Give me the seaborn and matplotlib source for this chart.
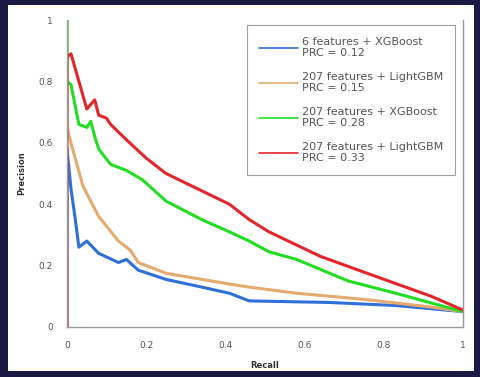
import matplotlib
matplotlib.use("Agg")
import matplotlib.pyplot as plt
import seaborn as sns
import pandas as pd
from matplotlib.patches import Rectangle

# ---- data ----
labels = ["6 features + XGBoost\nPRC = 0.12",
          "207 features + LightGBM\nPRC = 0.15",
          "207 features + XGBoost\nPRC = 0.28",
          "207 features + LightGBM\nPRC = 0.33"]
colors = ["#2f6fd8", "#e4aa6e", "#22dd22", "#e4262c"]

blue_recall = [0.0, 0.0, 0.01, 0.02, 0.03, 0.05, 0.08, 0.13, 0.15, 0.18, 0.25, 0.34, 0.41, 0.46, 0.66, 0.83, 1.0]
blue_prec = [0.0, 0.58, 0.45, 0.36, 0.26, 0.28, 0.24, 0.21, 0.22, 0.185, 0.155, 0.13, 0.11, 0.085, 0.08, 0.07, 0.05]

orange_recall = [0.0, 0.0, 0.01, 0.04, 0.08, 0.13, 0.16, 0.18, 0.25, 0.41, 0.46, 0.58, 0.75, 0.92, 1.0]
orange_prec = [1.0, 0.65, 0.6, 0.46, 0.36, 0.28, 0.25, 0.21, 0.175, 0.14, 0.13, 0.11, 0.09, 0.065, 0.05]

green_recall = [0.0, 0.0, 0.01, 0.03, 0.05, 0.06, 0.07, 0.08, 0.11, 0.15, 0.19, 0.25, 0.34, 0.41, 0.46, 0.51, 0.58, 0.71, 0.83, 1.0]
green_prec = [1.0, 0.8, 0.79, 0.66, 0.65, 0.67, 0.62, 0.58, 0.53, 0.51, 0.48, 0.41, 0.35, 0.31, 0.28, 0.245, 0.22, 0.15, 0.11, 0.05]

red_recall = [0.0, 0.0, 0.01, 0.03, 0.05, 0.07, 0.08, 0.1, 0.11, 0.15, 0.2, 0.25, 0.33, 0.41, 0.46, 0.51, 0.64, 0.79, 0.92, 1.0]
red_prec = [0.0, 0.88, 0.89, 0.8, 0.71, 0.74, 0.69, 0.68, 0.66, 0.61, 0.55, 0.5, 0.45, 0.4, 0.35, 0.31, 0.23, 0.16, 0.1, 0.055]

xticks = [0, 0.2, 0.4, 0.6, 0.8, 1]
xticklabels = ["0", "0.2", "0.4", "0.6", "0.8", "1"]
yticks = [0, 0.2, 0.4, 0.6, 0.8, 1]
yticklabels = ["0", "0.2", "0.4", "0.6", "0.8", "1"]

sns.set_theme(style="white")
plt.rcParams["font.family"] = ["DejaVu Sans"]

fig = plt.figure(figsize=(4.81, 3.77), dpi=100)
fig.patch.set_facecolor("#1c1a44")

bg = fig.add_axes([0, 0, 1, 1], zorder=-5)
bg.set_axis_off()
bg.set_xlim(0, 481)
bg.set_ylim(377, 0)
bg.add_patch(Rectangle((8, 5), 466, 366, facecolor="white", edgecolor="none"))

ax = fig.add_axes([67 / 481, 1 - 327 / 377, 396 / 481, 307 / 377], zorder=1)
ax.set_facecolor("none")

for lab, c, r, p in zip(labels, colors,
                        [blue_recall, orange_recall, green_recall, red_recall],
                        [blue_prec, orange_prec, green_prec, red_prec]):
    d = pd.DataFrame({"Recall": r, "Precision": p})
    sns.lineplot(data=d, x="Recall", y="Precision", sort=False, estimator=None,
                 color=c, linewidth=2.2, ax=ax, label=lab)

ax.set_xlim(0, 1)
ax.set_ylim(0, 1)
ax.set_xticks(xticks)
ax.set_xticklabels(xticklabels)
ax.set_yticks(yticks)
ax.set_yticklabels(yticklabels)
ax.tick_params(labelsize=6.5, colors="#555555", length=0, pad=10)
ax.set_xlabel("Recall", fontsize=6, fontweight="bold", color="#333333", labelpad=8)
ax.set_ylabel("Precision", fontsize=6, fontweight="bold", color="#333333", labelpad=9)
for s in ["left", "bottom", "right"]:
    ax.spines[s].set_color("#999999")
    ax.spines[s].set_linewidth(1.0)
ax.spines["top"].set_visible(False)

leg = ax.legend(loc="upper right", bbox_to_anchor=(0.98, 0.985), fontsize=8,
                frameon=True, fancybox=False, edgecolor="#888888",
                handlelength=3.5, labelspacing=1.2, borderpad=1.1,
                handletextpad=0.3, borderaxespad=0)
for t in leg.get_texts():
    t.set_color("#555555")
leg.get_frame().set_linewidth(0.8)
for h in leg.get_lines():
    h.set_linewidth(1.2)

fig.savefig("out.png", dpi=100, facecolor=fig.get_facecolor())
